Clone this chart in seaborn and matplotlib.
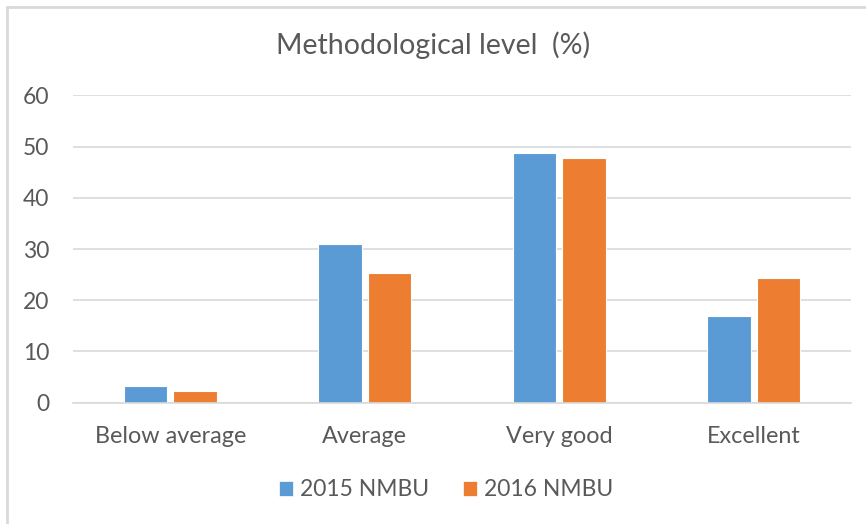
import numpy as np
import pandas as pd
import matplotlib.pyplot as plt
import seaborn as sns
from matplotlib.lines import Line2D
from matplotlib.patches import Patch

# data
categories = ['Below average', 'Average', 'Very good', 'Excellent']
series_names = ['2015 NMBU', '2016 NMBU']
values_2015 = [3.3, 30.9, 48.7, 17.0]
values_2016 = [2.3, 25.4, 47.8, 24.3]
y_ticks = [0, 10, 20, 30, 40, 50, 60]

colors = ['#5B9BD5', '#ED7D31']
text_grey = '#595959'
grid_grey = '#D9D9D9'

df = pd.DataFrame({
    'category': categories * 2,
    'series': [series_names[0]] * 4 + [series_names[1]] * 4,
    'value': values_2015 + values_2016,
})

sns.set_theme(style='white')
plt.rcParams['font.family'] = ['Lato', 'DejaVu Sans']

fig = plt.figure(figsize=(8.66, 5.24), dpi=100)
ax = fig.add_axes([73 / 866, 1 - 402.7 / 524, (851 - 73) / 866, (402.7 - 95.3) / 524])

sns.barplot(data=df, x='category', y='value', hue='series', order=categories,
            hue_order=series_names, palette=colors, saturation=1, width=0.509, gap=0.12,
            edgecolor='white', linewidth=0.8, legend=False, ax=ax)

ax.set_ylim(0, 60)
ax.set_xlim(-0.5, 3.5)
ax.set_yticks(y_ticks)
ax.set_axisbelow(True)
ax.yaxis.grid(True, color=grid_grey, linewidth=1.2)
for s in ['top', 'right', 'left']:
    ax.spines[s].set_visible(False)
ax.spines['bottom'].set_color(grid_grey)
ax.spines['bottom'].set_linewidth(1.2)
ax.tick_params(axis='y', length=0, pad=17, labelsize=16.5, labelcolor=text_grey)
ax.tick_params(axis='x', length=0, pad=17, labelsize=16.8, labelcolor=text_grey)
ax.set_xlabel('')
ax.set_ylabel('')

fig.text(0.5, 1 - 45 / 524, 'Methodological level  (%)', ha='center', va='center',
         fontsize=20.5, color=text_grey)

handles = [Patch(facecolor=c, edgecolor='white', linewidth=0.5) for c in colors]
fig.legend(handles, series_names, loc='center', bbox_to_anchor=(446 / 866, 1 - 490 / 524),
           ncol=2, frameon=False, fontsize=16.5, labelcolor=text_grey,
           handlelength=0.6, handleheight=0.6, handletextpad=0.3, columnspacing=1.5)

# light frame on the top and left edges, as in the reference
fig.add_artist(Line2D([7 / 866, 1], [1 - 7 / 524, 1 - 7 / 524], color=grid_grey, linewidth=2,
                      transform=fig.transFigure))
fig.add_artist(Line2D([7 / 866, 7 / 866], [0, 1 - 7 / 524], color=grid_grey, linewidth=2,
                      transform=fig.transFigure))

fig.savefig('out.png', dpi=100, facecolor='white')
